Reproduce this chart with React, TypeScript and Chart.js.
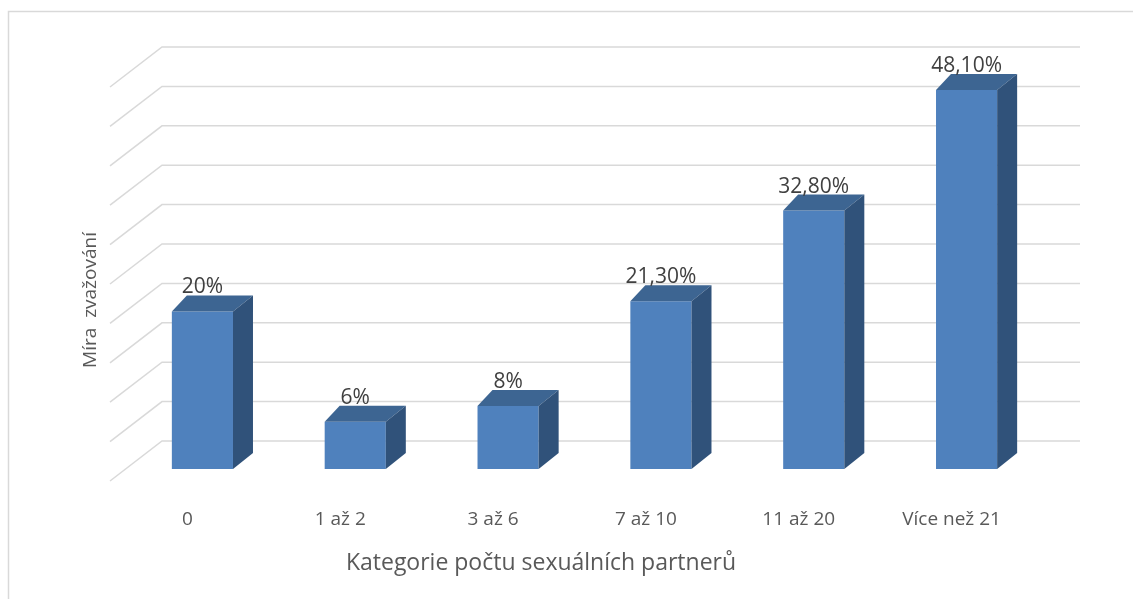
import React, { useEffect, useRef } from "react";
import { Chart, registerables } from "chart.js";

Chart.register(...registerables);

const categories = ["0", "1 až 2", "3 až 6", "7 až 10", "11 až 20", "Více než 21"];
const values = [20, 6, 8, 21.3, 32.8, 48.1];
const valueLabels = ["20%", "6%", "8%", "21,30%", "32,80%", "48,10%"];
const xTitle = "Kategorie počtu sexuálních partnerů";
const yTitle = "Míra  zvažování";
const yMin = 0;
const yMax = 50;
const yStep = 5;

const FONT = "'Open Sans', 'Noto Sans', sans-serif";
const FRONT = "#4F81BD";
const TOP = "#3D6592";
const SIDE = "#30527A";
const GRID = "#D9D9D9";

// 3D geometry (pixel offsets)
const DXR = 20;
const DXL = 15;
const DY = 16;
const WALL_DX = 36;
const WALL_DY = 28;
const FRONT_DX = -16;
const FRONT_DY = 12;
const RIGHT_DX = 37;

const threeD = {
  id: "threeD",
  beforeDraw(chart: any) {
    const { ctx, width, height } = chart;
    ctx.save();
    ctx.fillStyle = "#ffffff";
    ctx.fillRect(0, 0, width, height);
    ctx.strokeStyle = GRID;
    ctx.lineWidth = 1.5;
    ctx.strokeRect(8.5, 11.5, width + 100, height + 100);
    ctx.restore();
  },
  beforeDatasetsDraw(chart: any) {
    const { ctx, chartArea } = chart;
    const y = chart.scales.y;
    ctx.save();
    ctx.strokeStyle = GRID;
    ctx.lineWidth = 1.5;
    y.ticks.forEach((t: any) => {
      const pf = y.getPixelForValue(t.value);
      const pb = pf - WALL_DY;
      ctx.beginPath();
      ctx.moveTo(chartArea.left + FRONT_DX, pf + FRONT_DY);
      ctx.lineTo(chartArea.left + WALL_DX, pb);
      ctx.lineTo(chartArea.right + RIGHT_DX, pb);
      ctx.stroke();
    });
    ctx.restore();
  },
  afterDatasetsDraw(chart: any) {
    const { ctx } = chart;
    const meta = chart.getDatasetMeta(0);
    ctx.save();
    meta.data.forEach((bar: any, i: number) => {
      const { x, y, base, width } = bar.getProps(["x", "y", "base", "width"], true);
      const l = x - width / 2;
      const r = x + width / 2;
      // top face
      ctx.fillStyle = TOP;
      ctx.beginPath();
      ctx.moveTo(l, y);
      ctx.lineTo(l + DXL, y - DY);
      ctx.lineTo(r + DXR, y - DY);
      ctx.lineTo(r, y);
      ctx.closePath();
      ctx.fill();
      // side face
      ctx.fillStyle = SIDE;
      ctx.beginPath();
      ctx.moveTo(r, y);
      ctx.lineTo(r + DXR, y - DY);
      ctx.lineTo(r + DXR, base - DY);
      ctx.lineTo(r, base);
      ctx.closePath();
      ctx.fill();
      // value label
      ctx.fillStyle = "#404040";
      ctx.font = `21px ${FONT}`;
      ctx.textAlign = "center";
      ctx.textBaseline = "alphabetic";
      ctx.fillText(valueLabels[i], x, y - DY - 2);
    });
    // axis titles
    ctx.fillStyle = "#595959";
    ctx.font = `23px ${FONT}`;
    ctx.textAlign = "center";
    ctx.textBaseline = "alphabetic";
    ctx.fillText(xTitle, 541, 570);
    ctx.save();
    ctx.translate(96, 300);
    ctx.rotate(-Math.PI / 2);
    ctx.font = `19px ${FONT}`;
    ctx.fillText(yTitle, 0, 0);
    ctx.restore();
    ctx.restore();
  },
};

export default function App() {
  const ref = useRef<HTMLCanvasElement | null>(null);
  useEffect(() => {
    if (!ref.current) return;
    const chart = new Chart(ref.current, {
      type: "bar",
      data: {
        labels: categories,
        datasets: [
          {
            data: values,
            backgroundColor: FRONT,
            borderWidth: 0,
            categoryPercentage: 1,
            barPercentage: 0.4,
          },
        ],
      },
      options: {
        animation: false,
        responsive: false,
        devicePixelRatio: 1,
        layout: { padding: { left: 126, right: 90, top: 75, bottom: 0 } },
        plugins: {
          legend: { display: false },
          tooltip: { enabled: false },
        },
        scales: {
          x: {
            grid: { display: false },
            border: { display: false },
            ticks: {
              color: "#595959",
              font: { family: FONT, size: 19 },
              padding: 31,
              labelOffset: -15,
              maxRotation: 0,
              autoSkip: false,
            },
            afterFit(scale: any) {
              scale.height = 130;
            },
          },
          y: {
            display: false,
            min: yMin,
            max: yMax,
            ticks: { stepSize: yStep },
          },
        },
      },
      plugins: [threeD],
    });
    return () => chart.destroy();
  }, []);
  return (
    <div style={{ position: "absolute", left: 0, top: 0, width: 1133, height: 599 }}>
      <canvas ref={ref} width={1133} height={599} />
    </div>
  );
}
